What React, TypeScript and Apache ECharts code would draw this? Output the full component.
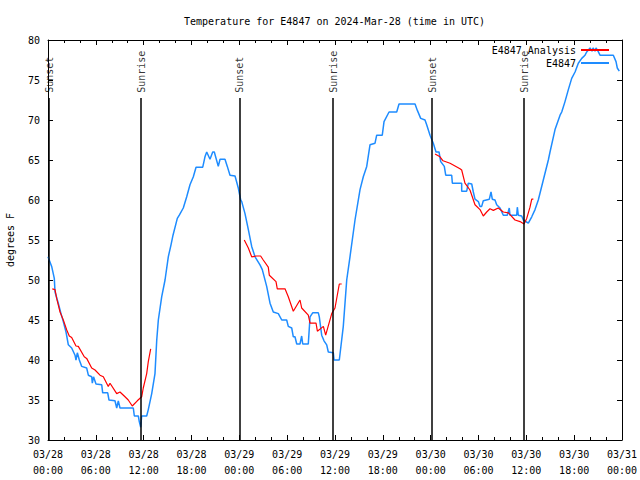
import React, { useEffect, useRef } from 'react';
import * as echarts from 'echarts';

const chartTitle = 'Temperature for E4847 on 2024-Mar-28 (time in UTC)';
const yAxisName = 'degrees F';
const observedName = 'E4847';
const analysisName = 'E4847 Analysis';
const startDay = 28;

// [hours since 03/28 00:00 UTC, temperature F]
const observed: [number, number][] = [
  [0.0, 52.9], [0.46, 51.7], [0.79, 50.2], [0.88, 48.5], [1.29, 47.1], [1.63, 45.8], [1.92, 44.8],
  [2.26, 43.5], [2.55, 41.9], [2.97, 41.5], [3.39, 40.6], [3.51, 40.0], [3.68, 40.9], [3.93, 40.0],
  [4.23, 39.2], [4.85, 39.0], [5.06, 38.1], [5.48, 37.9], [5.56, 37.1], [5.71, 37.9], [6.02, 37.0],
  [6.74, 36.9], [6.86, 35.9], [7.49, 35.9], [7.65, 35.0], [8.4, 34.9], [8.62, 34.0], [8.82, 34.9],
  [9.03, 34.0], [10.7, 34.0], [10.83, 33.0], [11.33, 33.0], [11.45, 32.3], [11.63, 31.6],
  [11.75, 33.0], [12.38, 33.0], [12.58, 33.8], [13.01, 35.8], [13.42, 38.3], [13.64, 42.5],
  [13.84, 45.0], [14.26, 47.9], [14.68, 50.0], [15.09, 52.9], [15.43, 54.4], [15.68, 55.6],
  [16.22, 57.7], [16.47, 58.1], [16.97, 59.0], [17.4, 60.4], [17.81, 61.9], [18.23, 62.9],
  [18.57, 64.1], [19.41, 64.1], [19.69, 65.4], [19.91, 66.0], [20.32, 65.1], [20.66, 66.0],
  [20.86, 66.0], [21.36, 64.2], [21.58, 65.1], [22.2, 65.1], [22.49, 64.2], [22.83, 63.1],
  [23.46, 63.0], [23.87, 61.5], [24.17, 60.0], [24.3, 59.8], [24.71, 58.3], [25.13, 56.3],
  [25.55, 54.2], [25.97, 52.9], [26.59, 51.9], [26.88, 51.3], [27.43, 49.2], [27.85, 47.1],
  [28.26, 46.0], [28.89, 45.8], [29.32, 45.0], [29.94, 45.0], [30.14, 44.2], [30.57, 44.0],
  [30.77, 42.9], [30.98, 42.9], [31.2, 42.0], [31.61, 42.0], [31.82, 43.0], [31.95, 42.0],
  [32.65, 42.0], [32.87, 45.4], [33.2, 45.9], [33.91, 45.9], [34.03, 45.4], [34.33, 43.1],
  [34.62, 42.4], [34.96, 41.9], [35.16, 41.0], [35.79, 40.9], [35.88, 40.0], [36.54, 40.0],
  [37.04, 44.2], [37.47, 50.0], [37.88, 52.9], [38.51, 57.5], [39.14, 61.3], [39.55, 62.9],
  [39.98, 64.2], [40.39, 66.9], [41.02, 67.1], [41.23, 68.1], [41.93, 68.1], [42.15, 69.8],
  [42.78, 71.0], [43.74, 71.0], [44.03, 72.0], [46.04, 72.0], [46.33, 71.2], [46.75, 70.2],
  [47.29, 70.0], [47.5, 69.4], [47.92, 68.1], [48.33, 67.1], [48.67, 66.0], [49.05, 66.0],
  [49.26, 64.8], [49.71, 64.2], [49.89, 63.1], [50.64, 63.1], [50.72, 62.1], [51.89, 62.1],
  [51.89, 61.1], [52.52, 61.1], [52.72, 62.1], [53.15, 62.0], [53.35, 61.0], [53.56, 60.1],
  [53.98, 59.8], [54.19, 59.2], [54.4, 59.2], [54.6, 59.9], [55.36, 60.1], [55.57, 61.0],
  [55.73, 60.1], [56.07, 60.0], [56.28, 59.4], [56.7, 59.0], [57.11, 58.1], [57.61, 58.1],
  [57.86, 59.0], [57.95, 58.1], [58.79, 58.1], [58.87, 59.1], [58.99, 58.1], [59.42, 58.0],
  [59.62, 57.5], [60.25, 57.1], [60.68, 57.9], [61.09, 58.8], [61.5, 60.0], [62.13, 62.5],
  [62.76, 65.0], [62.97, 66.0], [63.6, 68.8], [64.23, 70.6], [64.44, 71.0], [64.85, 72.3],
  [65.27, 73.8], [65.69, 75.2], [66.11, 76.0], [66.52, 77.1], [66.95, 77.7], [67.36, 78.1],
  [67.57, 78.5], [67.99, 79.0], [68.24, 78.6], [68.37, 79.0], [68.62, 78.6], [68.74, 79.0],
  [68.99, 78.6], [69.24, 78.1], [70.91, 78.1], [71.25, 77.3], [71.41, 76.5], [71.66, 76.1],
];

const analysisNight1: [number, number][] = [
  [0.54, 48.9], [0.88, 48.8], [1.09, 47.7], [1.51, 46.0], [1.92, 45.0], [2.35, 43.75], [2.67, 43.0],
  [2.97, 42.8], [3.51, 41.75], [3.8, 41.7], [4.55, 40.4], [4.85, 40.2], [5.48, 39.0], [5.9, 38.75],
  [6.52, 38.1], [6.94, 37.9], [7.56, 36.7], [7.78, 37.1], [8.62, 35.8], [9.03, 36.0], [9.66, 35.4],
  [10.07, 35.0], [10.57, 34.25], [11.2, 34.9], [11.75, 35.4], [11.95, 36.5], [12.38, 38.3],
  [12.58, 39.8], [12.88, 41.4],
];

const analysisNight2: [number, number][] = [
  [24.62, 55.0], [25.13, 54.0], [25.55, 52.9], [26.17, 53.0], [26.67, 53.0], [27.0, 52.5],
  [27.63, 51.6], [27.76, 50.6], [28.6, 49.8], [28.76, 48.9], [29.73, 48.9], [30.14, 47.9],
  [30.77, 46.1], [31.61, 47.5], [31.82, 46.5], [32.65, 45.6], [32.87, 44.6], [33.62, 44.6],
  [33.79, 43.6], [34.54, 44.2], [34.83, 43.1], [35.59, 45.8], [36.0, 46.5], [36.54, 49.5],
  [36.84, 49.5],
];

const analysisNight3: [number, number][] = [
  [48.55, 65.75], [49.17, 65.4], [49.55, 64.9], [50.43, 64.6], [51.68, 63.9], [51.89, 63.75],
  [52.3, 62.1], [52.93, 61.25], [53.56, 59.4], [54.19, 58.8], [54.6, 58.0], [55.03, 58.5],
  [55.44, 58.9], [55.86, 58.7], [56.48, 59.0], [57.11, 58.5], [57.74, 58.4], [58.58, 57.5],
  [59.21, 57.3], [59.71, 57.0], [60.05, 57.7], [60.46, 59.1], [60.68, 60.1], [60.88, 60.1],
];

const sunEventHours = [0.13, 11.67, 24.08, 35.75, 48.17, 59.71];
const sunEventNames = ['Sunset', 'Sunrise', 'Sunset', 'Sunrise', 'Sunset', 'Sunrise'];

const FONT = 'DejaVu Sans Mono';
const BLUE = '#1e8cff';
const RED = '#ff0000';
const LINE_TOP = 72.75;
const LABEL_BASE = 73.4;

function fmtX(v: number): string {
  const day = startDay + Math.floor(v / 24);
  const hr = Math.round(v % 24);
  return `03/${String(day).padStart(2, '0')}\n${String(hr).padStart(2, '0')}:00`;
}

export default function App() {
  const ref = useRef<HTMLDivElement>(null);
  useEffect(() => {
    if (!ref.current) return;
    const chart = echarts.init(ref.current, undefined, { renderer: 'svg' });
    const axisCommon = {
      axisLine: { show: true, onZero: false, lineStyle: { color: '#000', width: 1 } },
      splitLine: { show: false },
    };
    const xCommon = {
      ...axisCommon,
      type: 'value' as const,
      min: 0,
      max: 72,
      interval: 6,
      axisTick: { show: true, inside: true, length: 5, lineStyle: { color: '#000' } },
      minorTick: { show: true, splitNumber: 3, length: 3, lineStyle: { color: '#000' } },
      minorSplitLine: { show: false },
    };
    const yCommon = {
      ...axisCommon,
      type: 'value' as const,
      min: 30,
      max: 80,
      interval: 5,
      axisTick: { show: true, inside: true, length: 5, lineStyle: { color: '#000' } },
    };
    const legendCommon = {
      orient: 'horizontal' as const,
      align: 'right' as const,
      right: 26,
      itemWidth: 28,
      itemHeight: 2,
      textStyle: { fontFamily: FONT, fontSize: 10, color: '#000' },
      selectedMode: false,
    };
    chart.setOption({
      animation: false,
      backgroundColor: '#fff',
      textStyle: { fontFamily: FONT },
      title: {
        text: chartTitle,
        left: 179,
        top: 11,
        textStyle: { fontFamily: FONT, fontSize: 10, fontWeight: 'normal', color: '#000' },
      },
      grid: {
        left: 48,
        right: 18,
        top: 40,
        bottom: 40,
        containLabel: false,
        outerBoundsMode: 'none',
      },
      legend: [
        { ...legendCommon, data: [{ name: analysisName, icon: 'rect' }], top: 40 },
        { ...legendCommon, data: [{ name: observedName, icon: 'rect' }], top: 53 },
      ],
      xAxis: [
        {
          ...xCommon,
          position: 'bottom',
          axisLabel: {
            show: true,
            formatter: fmtX,
            fontFamily: FONT,
            fontSize: 10,
            color: '#000',
            margin: 6,
            lineHeight: 16,
          },
        },
        {
          ...xCommon,
          position: 'top',
          axisLabel: { show: false },
        },
      ],
      yAxis: [
        {
          ...yCommon,
          position: 'left',
          name: yAxisName,
          nameLocation: 'middle',
          nameRotate: 90,
          nameGap: 33,
          nameTextStyle: { fontFamily: FONT, fontSize: 10, color: '#000' },
          axisLabel: { show: true, fontFamily: FONT, fontSize: 10, color: '#000', margin: 8 },
        },
        {
          ...yCommon,
          position: 'right',
          axisLabel: { show: false },
        },
      ],
      series: [
        {
          name: observedName,
          type: 'line',
          data: observed,
          showSymbol: false,
          symbol: 'none',
          lineStyle: { color: BLUE, width: 1.5 },
          itemStyle: { color: BLUE },
          z: 2,
        },
        ...[analysisNight1, analysisNight2, analysisNight3].map((d) => ({
          name: analysisName,
          type: 'line',
          data: d,
          showSymbol: false,
          symbol: 'none',
          lineStyle: { color: RED, width: 1.2 },
          itemStyle: { color: RED },
          z: 3,
        })),
        {
          name: 'sun',
          type: 'scatter',
          symbolSize: 0,
          silent: true,
          data: sunEventHours.map((h, i) => ({ value: [h, LABEL_BASE], name: sunEventNames[i] })),
          label: {
            show: true,
            formatter: '{b}',
            position: 'inside',
            rotate: 90,
            align: 'left',
            verticalAlign: 'middle',
            fontFamily: FONT,
            fontSize: 10,
            color: '#000',
          },
          markLine: {
            silent: true,
            symbol: 'none',
            label: { show: false },
            lineStyle: { color: '#000', width: 1.5, type: 'solid' },
            data: sunEventHours.map((h) => [{ coord: [h, 30] }, { coord: [h, LINE_TOP] }]),
          },
          z: 4,
        },
      ],
    });
    return () => chart.dispose();
  }, []);
  return (
    <div
      ref={ref}
      style={{ position: 'absolute', left: 0, top: 0, width: 640, height: 480 }}
    />
  );
}
